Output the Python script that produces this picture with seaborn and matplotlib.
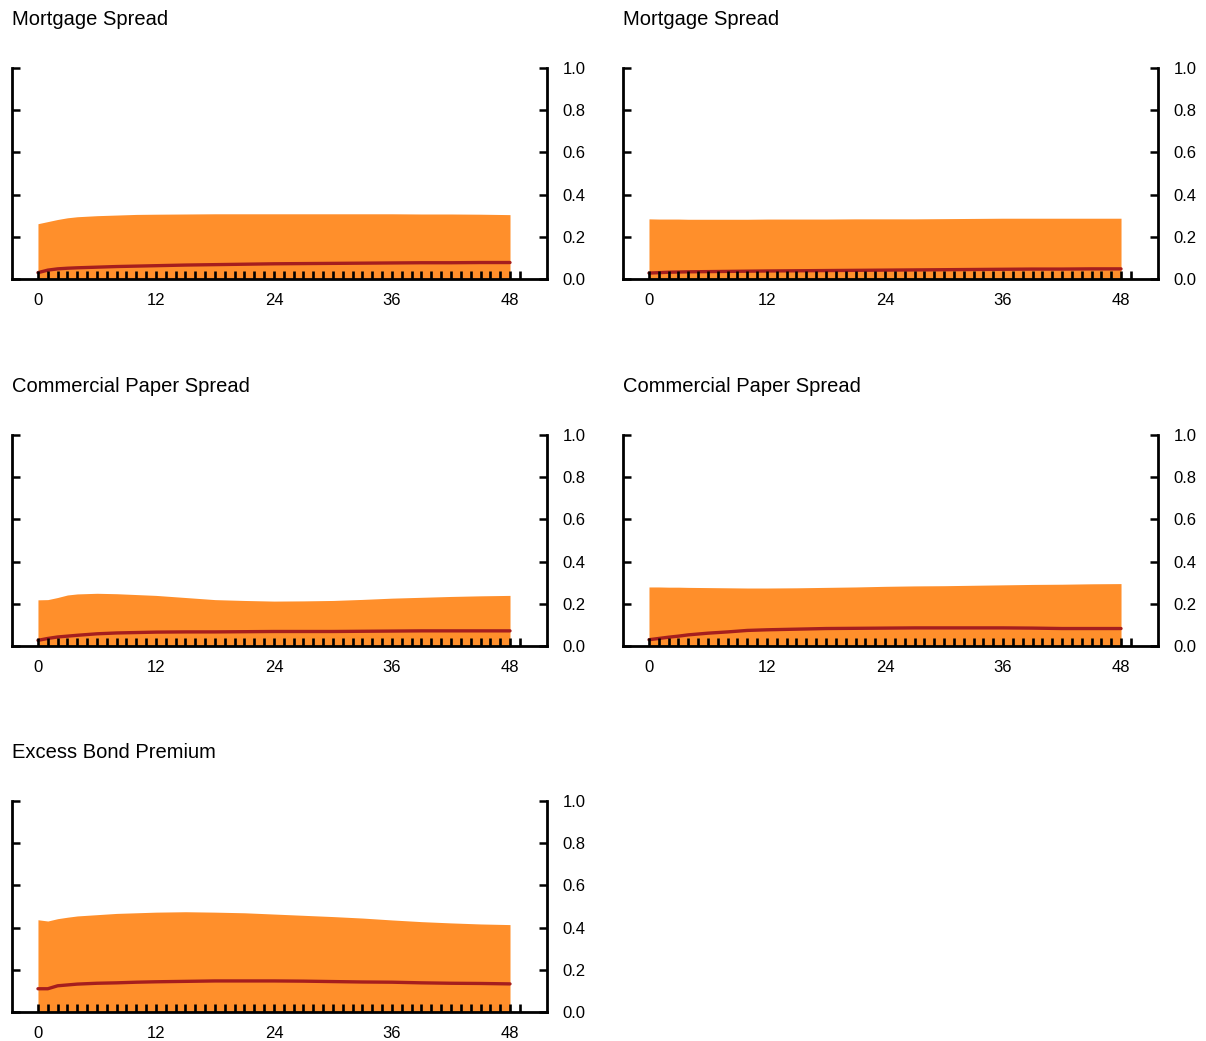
import matplotlib
matplotlib.use("Agg")
import matplotlib.pyplot as plt
import seaborn as sns
from matplotlib.ticker import FixedLocator, FormatStrFormatter

# horizonte (meses) en que se leen los valores
months = [0, 1, 2, 3, 4, 6, 8, 10, 12, 15, 18, 21, 24, 27, 30, 33, 36, 39, 42, 45, 48]

titles = [
    "Mortgage Spread", "Mortgage Spread",
    "Commercial Paper Spread", "Commercial Paper Spread",
    "Excess Bond Premium",
]

# banda superior y mediana de cada panel
mort_l_upper = [0.262, 0.272, 0.282, 0.290, 0.295, 0.300, 0.303, 0.306, 0.307, 0.308, 0.309,
                0.309, 0.309, 0.309, 0.309, 0.309, 0.309, 0.308, 0.308, 0.307, 0.305]
mort_l_median = [0.030, 0.042, 0.048, 0.051, 0.053, 0.056, 0.059, 0.061, 0.063, 0.066, 0.068,
                 0.070, 0.072, 0.073, 0.074, 0.075, 0.076, 0.077, 0.077, 0.078, 0.078]

mort_r_upper = [0.285, 0.284, 0.284, 0.284, 0.283, 0.283, 0.283, 0.283, 0.284, 0.284, 0.284,
                0.285, 0.285, 0.285, 0.286, 0.287, 0.288, 0.288, 0.288, 0.288, 0.288]
mort_r_median = [0.028, 0.030, 0.032, 0.033, 0.034, 0.035, 0.036, 0.037, 0.038, 0.039, 0.040,
                 0.041, 0.042, 0.043, 0.044, 0.045, 0.046, 0.047, 0.047, 0.048, 0.048]

cp_l_upper = [0.219, 0.220, 0.230, 0.242, 0.247, 0.250, 0.248, 0.244, 0.240, 0.230, 0.220,
              0.216, 0.213, 0.214, 0.216, 0.221, 0.227, 0.231, 0.235, 0.238, 0.240]
cp_l_median = [0.027, 0.036, 0.043, 0.047, 0.051, 0.058, 0.062, 0.064, 0.066, 0.067, 0.067,
               0.068, 0.069, 0.069, 0.069, 0.070, 0.071, 0.072, 0.072, 0.072, 0.072]

cp_r_upper = [0.280, 0.280, 0.279, 0.279, 0.278, 0.277, 0.276, 0.275, 0.275, 0.276, 0.278,
              0.280, 0.283, 0.285, 0.286, 0.288, 0.290, 0.292, 0.293, 0.295, 0.296]
cp_r_median = [0.030, 0.036, 0.042, 0.047, 0.053, 0.061, 0.067, 0.074, 0.077, 0.080, 0.083,
               0.084, 0.085, 0.086, 0.086, 0.086, 0.086, 0.085, 0.083, 0.083, 0.083]

ebp_upper = [0.437, 0.431, 0.442, 0.449, 0.455, 0.461, 0.467, 0.470, 0.473, 0.475, 0.473,
             0.470, 0.464, 0.458, 0.452, 0.445, 0.436, 0.428, 0.422, 0.417, 0.414]
ebp_median = [0.110, 0.110, 0.124, 0.128, 0.132, 0.136, 0.138, 0.141, 0.143, 0.145, 0.147,
              0.147, 0.147, 0.146, 0.144, 0.142, 0.141, 0.138, 0.136, 0.135, 0.133]

uppers = [mort_l_upper, mort_r_upper, cp_l_upper, cp_r_upper, ebp_upper]
medians = [mort_l_median, mort_r_median, cp_l_median, cp_r_median, ebp_median]

x_major = [0, 12, 24, 36, 48]
x_minor = list(range(0, 50))
y_ticks = [0.0, 0.2, 0.4, 0.6, 0.8, 1.0]

BAND = "#FF8F2B"
LINE = "#A51E1E"

sns.set_style("white")
plt.rcParams["font.family"] = ["Liberation Sans", "DejaVu Sans"]
plt.rcParams["text.color"] = "black"
plt.rcParams["xtick.color"] = "black"
plt.rcParams["ytick.color"] = "black"
plt.rcParams["axes.axisbelow"] = False

fig = plt.figure(figsize=(12.06, 10.41), dpi=100)

# posiciones de los ejes en fracción de figura
lefts = [0.00995, 0.5166]
bottoms = [0.732, 0.3794, 0.0279]
w, h = 0.4436, 0.2027

for i, (title, up, med) in enumerate(zip(titles, uppers, medians)):
    ax = fig.add_axes([lefts[i % 2], bottoms[i // 2], w, h])
    ax.set_axisbelow(False)
    ax.fill_between(months, 0, up, color=BAND, lw=0, zorder=1)
    sns.lineplot(x=months, y=med, ax=ax, color=LINE, lw=2.4, zorder=2)

    ax.set_xlim(-2.64, 51.76)
    ax.set_ylim(0, 1)
    ax.spines["top"].set_visible(False)
    for s in ["left", "right", "bottom"]:
        ax.spines[s].set_linewidth(2.0)
        ax.spines[s].set_color("black")

    ax.xaxis.set_major_locator(FixedLocator(x_major))
    ax.xaxis.set_minor_locator(FixedLocator(x_minor))
    ax.tick_params(axis="x", which="both", direction="in", length=5.5, width=1.9,
                   color="black", labelcolor="black", bottom=True, top=False,
                   labelsize=12, pad=10)

    ax.set_yticks(y_ticks)
    ax.yaxis.set_major_formatter(FormatStrFormatter("%.1f"))
    ax.tick_params(axis="y", which="major", direction="in", length=6, width=1.8,
                   color="black", labelcolor="black", left=True, right=True,
                   labelleft=False, labelright=True, labelsize=12, pad=11)

    ax.text(0.0, 1.228, title, transform=ax.transAxes, ha="left", va="center",
            fontsize=14.5, color="black")

fig.savefig("out.png", dpi=100)
